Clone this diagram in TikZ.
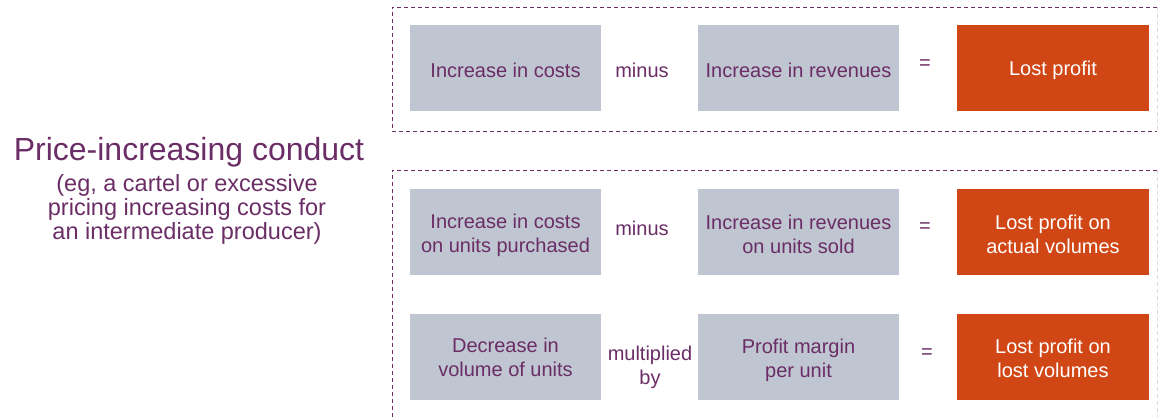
\documentclass[tikz,border=0pt]{standalone}
\usepackage{fontspec}
\setmainfont{Liberation Sans}
\begin{document}
\begin{tikzpicture}[x=1pt,y=-1pt,
  txt/.style={text=purp,font=\fontsize{20}{24}\selectfont,align=center,inner sep=0pt},
  wtxt/.style={txt,text=white},
  graybox/.style={fill=boxgray,draw=none,minimum width=191pt,minimum height=86pt,inner sep=0pt},
  graybox2/.style={fill=boxgray,draw=none,minimum width=201pt,minimum height=86pt,inner sep=0pt},
  orbox/.style={fill=orng,draw=none,minimum width=192pt,minimum height=86pt,inner sep=0pt},
  op/.style={txt},
  frame/.style={draw=purp,line width=0.8pt,dash pattern=on 4pt off 3pt},
  framer/.style={draw=gray!30,line width=0.8pt,dash pattern=on 4pt off 3pt}]
\definecolor{purp}{HTML}{6B2D66}
\definecolor{boxgray}{HTML}{BFC5D1}
\definecolor{orng}{HTML}{D14615}
\useasboundingbox (0,0) rectangle (1158,416);
% frames
\draw[frame] (1157,7) -- (392,7) -- (392,131) -- (1157,131);
\draw[framer] (1157,7) -- (1157,131);
\draw[frame] (1157,170) -- (392,170) -- (392,418);
\draw[framer] (1157,170) -- (1157,418);
% title
\node[txt,font=\fontsize{32}{36}\selectfont] (title) at (189,152) {Price-increasing conduct};
\node[txt,font=\fontsize{23.5}{24.2}\selectfont,anchor=north] (sub) at (187,174) {(eg, a cartel or excessive\\pricing increasing costs for\\an intermediate producer)};
% row 1
\node[graybox] (a1) at (505.5,67.5) {};
\node[graybox2] (b1) at (798.5,67.5) {};
\node[orbox] (c1) at (1053,67.5) {};
\node[txt] (a1t) at ([yshift=-2.5pt]a1.center) {Increase in costs};
\node[op] (m1) at (642,70) {minus};
\node[txt] (b1t) at ([yshift=-2.5pt]b1.center) {Increase in revenues};
\node[op] (e1) at (925,65) {=};
\node[wtxt] (c1t) at ([yshift=-2.5pt]c1.center) {Lost profit};
% row 2
\node[graybox] (a2) at (505.5,231.5) {};
\node[graybox2] (b2) at (798.5,231.5) {};
\node[orbox] (c2) at (1053,231.5) {};
\node[txt] (a2t) at ([yshift=-3.5pt]a2.center) {Increase in costs\\on units purchased};
\node[op] (m2) at (642,228) {minus};
\node[txt] (b2t) at ([yshift=-2.5pt]b2.center) {Increase in revenues\\on units sold};
\node[op] (e2) at (925,228) {=};
\node[wtxt] (c2t) at ([yshift=-2.5pt]c2.center) {Lost profit on\\actual volumes};
% row 3
\node[graybox] (a3) at (505.5,357) {};
\node[graybox2] (b3) at (798.5,357) {};
\node[orbox] (c3) at (1053,357) {};
\node[txt] (a3t) at ([yshift=-0.5pt]a3.center) {Decrease in\\volume of units};
\node[op] (m3) at (650,367.5) {multiplied\\by};
\node[txt] (b3t) at ([yshift=-3.5pt]b3.center) {Profit margin\\per unit};
\node[op] (e3) at (927,354) {=};
\node[wtxt] (c3t) at ([yshift=-1.5pt]c3.center) {Lost profit on\\lost volumes};
\end{tikzpicture}
\end{document}
